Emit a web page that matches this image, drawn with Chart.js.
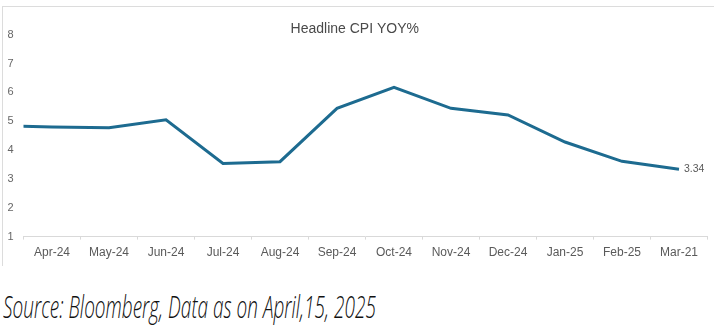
<!DOCTYPE html>
<html>
<head>
<meta charset="utf-8">
<script src="https://cdn.jsdelivr.net/npm/chart.js@4"></script>
<style>
  html, body { margin: 0; padding: 0; background: #ffffff; }
  body { width: 724px; height: 330px; position: relative; overflow: hidden; }
  #box { position: absolute; left: 2px; top: 6px; width: 712px; height: 260px;
         border-top: 1px solid #dcdcdc; border-left: 1px solid #dcdcdc; box-sizing: border-box; }
  #wrap { position: absolute; left: 2px; top: 6px; width: 712px; height: 260px; filter: blur(0.45px); }
  #src { position: absolute; left: 3px; top: 291px; font-family: "Open Sans", "DejaVu Sans Condensed", sans-serif;
         font-style: italic; font-weight: 300; font-size: 31px; line-height: 31px; color: #111; white-space: nowrap;
         transform-origin: 0 0; }
</style>
</head>
<body>
<div id="box"></div>
<div id="wrap"><canvas id="c" width="712" height="260"></canvas></div>
<div id="src">Source: Bloomberg, Data as on April,15, 2025</div>
<script>
const categories = ["Mar-24","Apr-24","May-24","Jun-24","Jul-24","Aug-24","Sep-24","Oct-24","Nov-24","Dec-24","Jan-25","Feb-25","Mar-25"];
const tickLabels = ["Mar-24","Apr-24","May-24","Jun-24","Jul-24","Aug-24","Sep-24","Oct-24","Nov-24","Dec-24","Jan-25","Feb-25","Mar-21"];
const cpiYoY = [4.85, 4.80, 4.78, 5.05, 3.54, 3.60, 5.45, 6.18, 5.45, 5.22, 4.28, 3.61, 3.34];
const yTicks = [1, 2, 3, 4, 5, 6, 7, 8];
const titleText = "Headline CPI YOY%";

const src = document.getElementById('src');
src.style.transform = 'scaleX(' + (373 / src.offsetWidth) + ')';

const lastLabel = {
  id: 'lastLabel',
  afterDatasetsDraw(chart) {
    const meta = chart.getDatasetMeta(0);
    const i = meta.data.length - 1;
    const pt = meta.data[i];
    const ctx = chart.ctx;
    ctx.save();
    ctx.font = '10.5px "Liberation Sans Narrow", "Liberation Sans", sans-serif';
    ctx.fillStyle = '#595959';
    ctx.textAlign = 'left';
    ctx.textBaseline = 'middle';
    ctx.fillText(cpiYoY[i].toFixed(2), pt.x + 5, pt.y);
    ctx.restore();
  }
};

const tickFont = { family: '"Liberation Sans", sans-serif', size: 12 };

new Chart(document.getElementById('c'), {
  type: 'line',
  data: {
    labels: categories,
    datasets: [{
      data: cpiYoY,
      borderColor: '#1d6b90',
      borderWidth: 3,
      pointRadius: 0,
      tension: 0,
      fill: false
    }]
  },
  options: {
    responsive: false,
    animation: false,
    layout: { padding: { left: 0, right: 6.5, top: 0, bottom: 0 } },
    plugins: {
      legend: { display: false },
      tooltip: { enabled: false },
      title: {
        display: true,
        text: titleText,
        color: '#4a4a4a',
        font: { family: '"Liberation Sans", sans-serif', size: 14, weight: 'normal' },
        padding: { top: 15, bottom: -3 }
      }
    },
    scales: {
      x: {
        type: 'category',
        min: 'Apr-24',
        offset: true,
        grid: { display: true, drawOnChartArea: false, offset: true, tickLength: 3, color: '#d9d9d9' },
        border: { display: true, color: '#d9d9d9', width: 1 },
        ticks: {
          color: '#5a5a5a',
          font: tickFont,
          padding: 6,
          maxRotation: 0,
          autoSkip: false,
          callback: function(v) { return tickLabels[v]; }
        }
      },
      y: {
        min: 1, max: 8,
        afterBuildTicks(scale) { scale.ticks = yTicks.map(v => ({ value: v })); },
        afterFit(scale) { scale.width = 21.5; },
        grid: { display: false, drawTicks: false },
        border: { display: false },
        ticks: {
          color: '#666666',
          font: { family: '"Liberation Sans", sans-serif', size: 11 },
          padding: 10
        }
      }
    }
  },
  plugins: [lastLabel]
});
</script>
</body>
</html>
